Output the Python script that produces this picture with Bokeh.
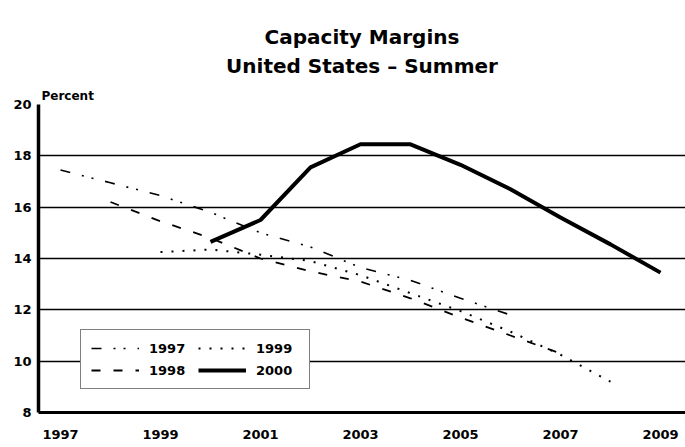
from bokeh.plotting import figure
from bokeh.models import FixedTicker, Range1d, Legend, LegendItem, Title
from bokeh.embed import file_html
from bokeh.resources import INLINE

# ---- data ----
years_1997 = [1997, 1998, 1999, 2000, 2001, 2002, 2003, 2004, 2005, 2006]
margin_1997 = [17.45, 16.95, 16.45, 15.8, 15.0, 14.45, 13.65, 13.15, 12.45, 11.8]

years_1998 = [1998, 1999, 2000, 2001, 2002, 2003, 2004, 2005, 2006, 2007]
margin_1998 = [16.2, 15.45, 14.8, 14.0, 13.5, 13.1, 12.45, 11.7, 11.0, 10.3]

years_1999 = [1999, 2000, 2001, 2002, 2003, 2004, 2005, 2006, 2007, 2008]
margin_1999 = [14.25, 14.35, 14.15, 13.9, 13.35, 12.65, 11.95, 11.15, 10.25, 9.2]

years_2000 = [2000, 2001, 2002, 2003, 2004, 2005, 2006, 2007, 2008, 2009]
margin_2000 = [14.65, 15.5, 17.55, 18.45, 18.45, 17.65, 16.7, 15.6, 14.55, 13.45]

x_ticks = [1997, 1999, 2001, 2003, 2005, 2007, 2009]
x_tick_labels = ["1997", "1999", "2001", "2003", "2005", "2007", "2009"]
y_ticks = [8, 10, 12, 14, 16, 18, 20]
y_tick_labels = ["8", "10", "12", "14", "16", "18", "20"]

FONT = "DejaVu Sans"

p = figure(width=685, height=447, output_backend="svg", toolbar_location=None,
           x_range=Range1d(1996.56, 2009.5), y_range=Range1d(8, 20),
           min_border_left=38, min_border_right=0, min_border_top=104,
           min_border_bottom=35, title=None)
p.outline_line_color = None
p.background_fill_color = "white"
p.border_fill_color = "white"

# titles (stacked outward from the frame: unit label, subtitle, main title)
pct = Title(text="Percent", align="left", offset=3, standoff=3,
            text_font=FONT, text_font_style="bold", text_font_size="12px",
            text_color="black")
sub = Title(text="United States \u2013 Summer", align="center", standoff=16,
            text_font=FONT, text_font_style="bold", text_font_size="20px",
            text_color="black")
main = Title(text="Capacity Margins", align="center", standoff=-10,
             text_font=FONT, text_font_style="bold", text_font_size="20px",
             text_color="black")
p.add_layout(pct, "above")
p.add_layout(sub, "above")
p.add_layout(main, "above")

# axes
p.xaxis.ticker = FixedTicker(ticks=x_ticks)
p.xaxis.major_label_overrides = dict(zip(x_ticks, x_tick_labels))
p.yaxis.ticker = FixedTicker(ticks=y_ticks)
p.yaxis.major_label_overrides = dict(zip(y_ticks, y_tick_labels))
for ax in (p.xaxis, p.yaxis):
    ax.major_tick_line_color = None
    ax.minor_tick_line_color = None
    ax.major_tick_out = 0
    ax.major_tick_in = 0
    ax.axis_line_color = "black"
    ax.major_label_text_font = FONT
    ax.major_label_text_font_style = "bold"
    ax.major_label_text_font_size = "13px"
    ax.major_label_text_color = "black"
p.xaxis.axis_line_width = 3
p.yaxis.axis_line_width = 3.5
p.xaxis.major_label_standoff = 17
p.yaxis.major_label_standoff = 7

p.xgrid.grid_line_color = None
p.ygrid.ticker = FixedTicker(ticks=y_ticks)
p.ygrid.grid_line_color = "black"
p.ygrid.grid_line_width = 1.6
p.ygrid.grid_line_alpha = 1.0

# series
r97 = p.line(years_1997, margin_1997, line_color="black", line_width=1.6,
             line_dash="10 12 2 8 2 12")
r98 = p.line(years_1998, margin_1998, line_color="black", line_width=1.8,
             line_dash="9 13")
r99 = p.line(years_1999, margin_1999, line_color="black", line_width=2,
             line_dash="2 9")
r00 = p.line(years_2000, margin_2000, line_color="black", line_width=4)

legend = Legend(items=[LegendItem(label="1997", renderers=[r97]),
                       LegendItem(label="1998", renderers=[r98]),
                       LegendItem(label="1999", renderers=[r99]),
                       LegendItem(label="2000", renderers=[r00])],
                ncols=2, location=(42, 23))
legend.border_line_color = "black"
legend.border_line_width = 1.5
legend.background_fill_color = "white"
legend.background_fill_alpha = 1.0
legend.label_text_font = FONT
legend.label_text_font_style = "bold"
legend.label_text_font_size = "13px"
legend.label_text_color = "black"
legend.glyph_width = 48
legend.glyph_height = 16
legend.label_standoff = 10
legend.label_width = 43
legend.spacing = 6
legend.padding = 10
legend.margin = 0
p.add_layout(legend)

open("out.html", "w").write(file_html(p, INLINE))
